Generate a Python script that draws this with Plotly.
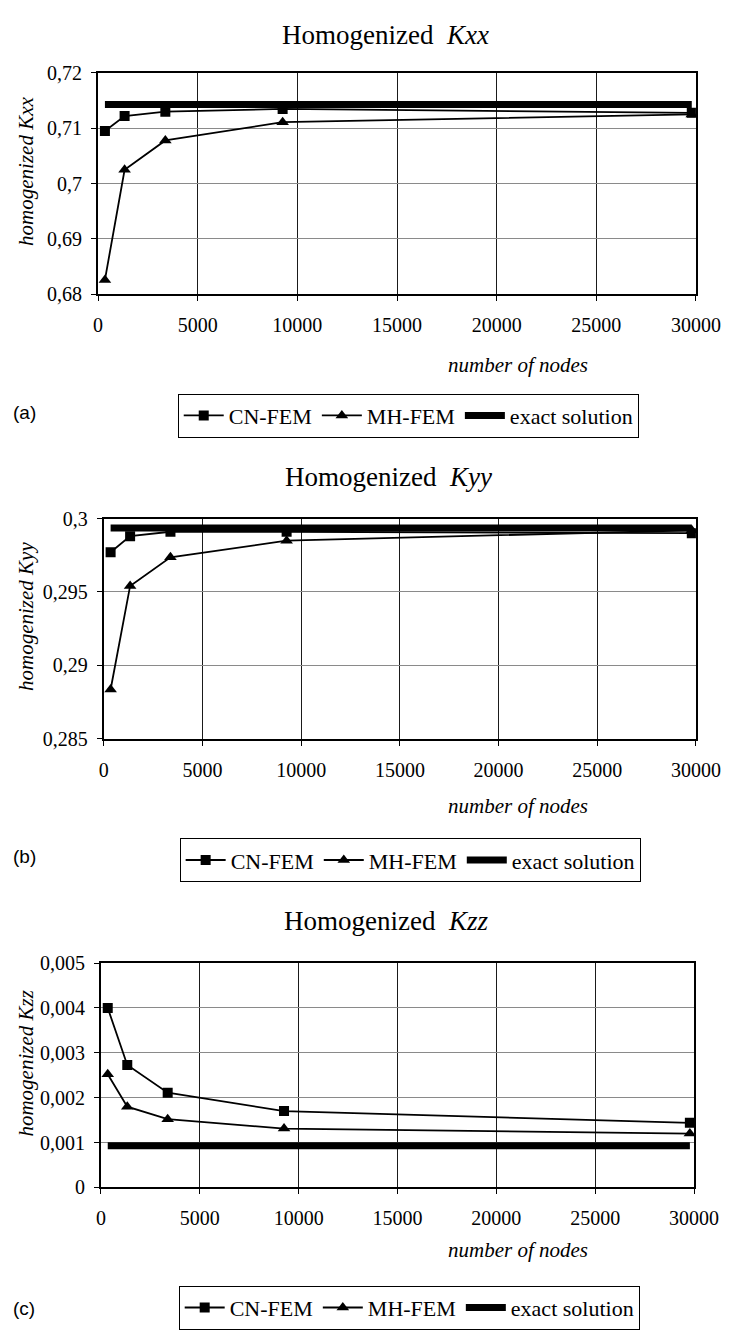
import plotly.graph_objects as go

# ---------------- data ----------------
nodes = [343, 1331, 3375, 9261, 29791]

kxx_cn = [0.7095, 0.7122, 0.7130, 0.7135, 0.7128]
kxx_mh = [0.6826, 0.7025, 0.7078, 0.7111, 0.7125]
kxx_exact = 0.7143

kyy_cn = [0.2977, 0.2988, 0.2991, 0.2991, 0.2990]
kyy_mh = [0.28836, 0.29541, 0.29736, 0.29849, 0.29920]
kyy_exact = 0.29935

kzz_cn = [0.0040, 0.00273, 0.00211, 0.00170, 0.00144]
kzz_mh = [0.00252, 0.00180, 0.00152, 0.00131, 0.00120]
kzz_exact = 0.00093

x_ticks = [0, 5000, 10000, 15000, 20000, 25000, 30000]
x_ticktext = ["0", "5000", "10000", "15000", "20000", "25000", "30000"]

yA_ticks = [0.68, 0.69, 0.70, 0.71, 0.72]
yA_text = ["0,68", "0,69", "0,7", "0,71", "0,72"]
yB_ticks = [0.285, 0.29, 0.295, 0.30]
yB_text = ["0,285", "0,29", "0,295", "0,3"]
yC_ticks = [0, 0.001, 0.002, 0.003, 0.004, 0.005]
yC_text = ["0", "0,001", "0,002", "0,003", "0,004", "0,005"]

titles = ["Homogenized&nbsp;&nbsp;<i>Kxx</i>", "Homogenized&nbsp;&nbsp;<i>Kyy</i>", "Homogenized&nbsp;&nbsp;<i>Kzz</i>"]
ytitles = ["homogenized Kxx", "homogenized Kyy", "homogenized Kzz"]
panel_labels = ["(a)", "(b)", "(c)"]
series_names = ["CN-FEM", "MH-FEM", "exact solution"]

# ---------------- layout geometry (pixels) ----------------
W, H = 743, 1340
SERIF = "Liberation Serif"
SANS = "Liberation Sans"

panels = [
    dict(x0=97, x1=720, y0=63, y1=288, title_y=24, nodes_y=360, leg_x=180, leg_y=389, lab_y=408,
         cn=kxx_cn, mh=kxx_mh, ex=kxx_exact, rng=[0.68, 0.72], tv=yA_ticks, tt=yA_text),
    dict(x0=103, x1=720, y0=516, y1=740, title_y=474, nodes_y=808, leg_x=182, leg_y=841, lab_y=860,
         cn=kyy_cn, mh=kyy_mh, ex=kyy_exact, rng=[0.285, 0.30], tv=yB_ticks, tt=yB_text),
    dict(x0=100, x1=718, y0=968, y1=1196, title_y=925, nodes_y=1260, leg_x=181, leg_y=1296, lab_y=1319,
         cn=kzz_cn, mh=kzz_mh, ex=kzz_exact, rng=[0, 0.005], tv=yC_ticks, tt=yC_text),
]

def px(x):
    return x / W

def py(y):
    return 1 - y / H

fig = go.Figure()
annotations = []
layout_axes = {}

for i, p in enumerate(panels):
    n = i + 1
    xa = "x" if n == 1 else f"x{n}"
    ya = "y" if n == 1 else f"y{n}"
    leg = "legend" if n == 1 else f"legend{n}"

    fig.add_trace(go.Scatter(
        x=nodes, y=p["cn"], mode="lines+markers", name=series_names[0],
        line=dict(color="black", width=1.8),
        marker=dict(symbol="square", size=10, color="black"),
        xaxis=xa, yaxis=ya, legend=leg))
    fig.add_trace(go.Scatter(
        x=nodes, y=p["mh"], mode="lines+markers", name=series_names[1],
        line=dict(color="black", width=1.8),
        marker=dict(symbol="triangle-up", size=11, color="black"),
        xaxis=xa, yaxis=ya, legend=leg))
    fig.add_trace(go.Scatter(
        x=[nodes[0], nodes[-1]], y=[p["ex"], p["ex"]], mode="lines", name=series_names[2],
        line=dict(color="black", width=7),
        xaxis=xa, yaxis=ya, legend=leg))

    xkey = "xaxis" if n == 1 else f"xaxis{n}"
    ykey = "yaxis" if n == 1 else f"yaxis{n}"
    layout_axes[xkey] = dict(
        domain=[px(p["x0"]), px(p["x1"])], anchor=ya, range=[0, 30000],
        tickvals=x_ticks, ticktext=x_ticktext, ticks="outside", ticklen=5, tickcolor="black",
        showgrid=True, gridcolor="#1a1a1a", gridwidth=1,
        showline=True, linecolor="black", linewidth=2, mirror=True,
        zeroline=False, ticklabelstandoff=7,
        tickfont=dict(family=SERIF, size=20, color="black"))
    layout_axes[ykey] = dict(
        domain=[py(p["y1"]), py(p["y0"])], anchor=xa, range=p["rng"],
        tickvals=p["tv"], ticktext=p["tt"], ticks="outside", ticklen=5, tickcolor="black",
        showgrid=True, gridcolor="#8a8a8a", gridwidth=1,
        showline=True, linecolor="black", linewidth=2, mirror=True,
        zeroline=False, ticklabelstandoff=5,
        tickfont=dict(family=SERIF, size=20, color="black"))

    legkey = "legend" if n == 1 else f"legend{n}"
    layout_axes[legkey] = dict(
        x=px(p["leg_x"]), y=py(p["leg_y"]), xanchor="left", yanchor="top",
        orientation="h", bordercolor="black", borderwidth=1, bgcolor="white",
        font=dict(family=SERIF, size=22, color="black"),
        itemwidth=40, tracegroupgap=0, traceorder="normal")

    cx = (p["x0"] + p["x1"]) / 2
    annotations.append(dict(text=titles[i], x=px(cx - 12), y=py(p["title_y"]), xref="paper", yref="paper",
                            showarrow=False, xanchor="center", yanchor="middle",
                            font=dict(family=SERIF, size=27, color="black")))
    annotations.append(dict(text=f"<i>{ytitles[i]}</i>", x=px(22), y=py((p["y0"] + p["y1"]) / 2 - 12),
                            xref="paper", yref="paper", showarrow=False, textangle=-90,
                            xanchor="center", yanchor="middle",
                            font=dict(family=SERIF, size=21, color="black")))
    annotations.append(dict(text="<i>number of nodes</i>", x=px(535), y=py(p["nodes_y"]),
                            xref="paper", yref="paper", showarrow=False,
                            xanchor="center", yanchor="middle",
                            font=dict(family=SERIF, size=21, color="black")))
    annotations.append(dict(text=panel_labels[i], x=px(20), y=py(p["lab_y"]),
                            xref="paper", yref="paper", showarrow=False,
                            xanchor="center", yanchor="middle",
                            font=dict(family=SANS, size=19, color="black")))

fig.update_layout(
    width=W, height=H, margin=dict(l=0, r=0, t=0, b=0),
    paper_bgcolor="white", plot_bgcolor="white",
    font=dict(family=SERIF, color="black"),
    showlegend=True, annotations=annotations, **layout_axes)

fig.write_html("out.html")
